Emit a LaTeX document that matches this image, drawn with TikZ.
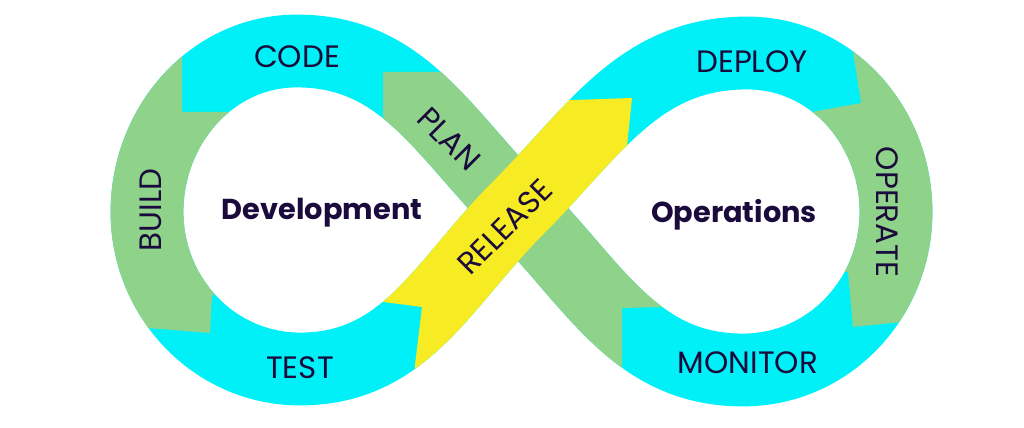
\documentclass[tikz,border=0pt]{standalone}
\usepackage{fontspec}
\setmainfont{Poppins}
\usepackage{tikz}
\usetikzlibrary{calc}
\usepackage{xcolor}
\definecolor{loopcyan}{RGB}{0, 240, 247}
\definecolor{loopgreen}{RGB}{143, 210, 137}
\definecolor{loopyellow}{RGB}{247, 236, 35}
\definecolor{labelink}{RGB}{27, 10, 60}

\begin{document}
\begin{tikzpicture}[x=0.025cm, y=0.025cm,
    band/.style={line width=1.82cm},
    stage/.style={font=\fontsize{22}{26}\selectfont, text=labelink, inner sep=0pt},
    hub/.style={font=\fontsize{20.5}{24}\selectfont\bfseries, text=labelink, inner sep=0pt}]
    \useasboundingbox (0,0) rectangle (1024,427);
    \coordinate (X) at (518,219);
    \coordinate (TL) at (297,376); \coordinate (LL) at (147,215); \coordinate (BL) at (300,58);
    \coordinate (TR) at (747,374); \coordinate (RR) at (896,215); \coordinate (BR) at (743,57);

    % whole loop
    \draw[band, loopcyan] (X) to[out=135,in=0] (TL) to[out=180,in=90] (LL) to[out=-90,in=180] (BL)
        to[out=0,in=-135] (X) to[out=45,in=180] (TR) to[out=0,in=90] (RR) to[out=-90,in=0] (BR)
        to[out=180,in=-45] (X);

    % build
    \begin{scope}
        \clip (182,427) -- (182,315) -- (250,315) -- (250,132) -- (212,132) -- (210,94) -- (148,99) -- (0,111) -- (0,427) -- cycle;
        \draw[band, loopgreen] (TL) to[out=180,in=90] (LL) to[out=-90,in=180] (BL);
    \end{scope}
    % operate
    \begin{scope}
        \clip (845,427) -- (861,324) -- (790,311) -- (790,155) -- (848,155) -- (853,100) -- (902,105) -- (1024,117) -- (1024,427) -- cycle;
        \draw[band, loopgreen] (TR) to[out=0,in=90] (RR) to[out=-90,in=0] (BR);
    \end{scope}
    % plan
    \begin{scope}
        \clip (383,267) -- (383,355) -- (470,355) -- (700,121) -- (622,119) -- (622,7) -- cycle;
        \draw[band, loopgreen] (BR) to[out=180,in=-45] (X) to[out=135,in=0] (TL);
    \end{scope}
    % release on top
    \begin{scope}
        \clip (345,130) -- (422,120) -- (415,62) -- (412,0) -- (560,0) -- (624,252) -- (632,329) -- (573,327) -- (520,326) -- cycle;
        \draw[band, loopyellow] (BL) to[out=0,in=-135] (X) to[out=45,in=180] (TR);
    \end{scope}

    \node[stage] (code) at (297,370) {CODE};
    \node[stage, rotate=90] (build) at (151,217) {BUILD};
    \node[stage] (test) at (300,59) {TEST};
    \node[stage, rotate=-45] (plan) at (449,288) {PLAN};
    \node[stage, rotate=45] (release) at (505,200) {RELEASE};
    \node[stage] (deploy) at (752,365) {DEPLOY};
    \node[stage, rotate=-90] (operate) at (887,215) {OPERATE};
    \node[stage] (monitor) at (748,64) {MONITOR};
    \node[hub] (dev) at (322,214) {Development};
    \node[hub] (ops) at (734,212) {Operations};
\end{tikzpicture}
\end{document}
